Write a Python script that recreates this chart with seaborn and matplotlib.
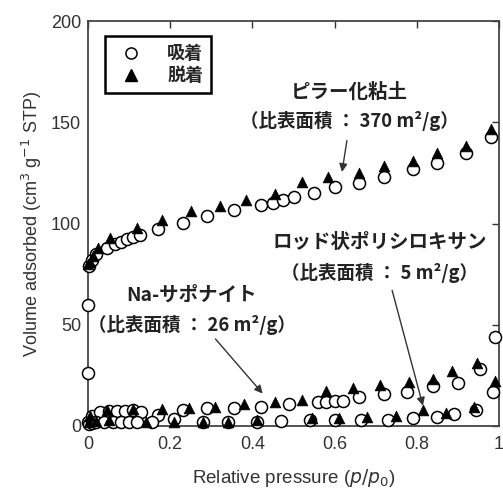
import matplotlib
matplotlib.use("Agg")
import matplotlib.pyplot as plt
import seaborn as sns
import pandas as pd
from matplotlib.lines import Line2D

# ピラー化粘土
pillar_ads_x = [0.0005, 0.001, 0.003, 0.01, 0.02, 0.045, 0.065, 0.08, 0.095, 0.11, 0.127, 0.17, 0.23, 0.29,
                0.355, 0.42, 0.45, 0.475, 0.50, 0.55, 0.60, 0.66, 0.72, 0.79, 0.85, 0.92, 0.98]
pillar_ads_y = [26, 60, 79, 82, 85, 88, 90, 91, 92.5, 93.5, 94.5, 97.5, 100.5, 103.5,
                106.5, 109, 110, 111.5, 113, 115, 118, 120, 123, 127, 130, 135, 143]
pillar_des_x = [0.0, 0.005, 0.012, 0.025, 0.054, 0.12, 0.18, 0.25, 0.32, 0.385, 0.455, 0.52, 0.585,
                0.66, 0.72, 0.79, 0.85, 0.92, 0.98]
pillar_des_y = [80, 81, 84, 88, 93, 98, 102, 106, 108.5, 111.5, 114.5, 120.5, 123,
                125, 128.5, 131, 135, 138.5, 146.5]

# Na-サポナイト
sapo_ads_x = [0.001, 0.01, 0.03, 0.05, 0.07, 0.09, 0.11, 0.13, 0.17, 0.23, 0.29, 0.355, 0.42, 0.49,
              0.56, 0.58, 0.60, 0.62, 0.66, 0.72, 0.775, 0.84, 0.90, 0.955, 0.99]
sapo_ads_y = [2, 5, 7, 7.5, 7.5, 7.5, 8, 7, 5.5, 8, 9, 9, 9.5, 11,
              12, 12, 12.5, 12.5, 14.5, 16, 17, 19.5, 21, 28, 44]
sapo_des_x = [0.005, 0.046, 0.11, 0.18, 0.245, 0.31, 0.38, 0.455, 0.52, 0.58, 0.645, 0.71, 0.78,
              0.84, 0.885, 0.946]
sapo_des_y = [5, 8, 8.5, 8.5, 9, 9.5, 11, 12, 13, 17.5, 19, 20, 21.5, 23, 27, 31]

# ロッド状ポリシロキサン
rod_ads_x = [0.002, 0.01, 0.02, 0.04, 0.06, 0.08, 0.10, 0.12, 0.155, 0.21, 0.28, 0.34, 0.41, 0.47,
             0.54, 0.60, 0.665, 0.73, 0.79, 0.85, 0.89, 0.945, 0.985]
rod_ads_y = [1, 1.5, 2, 2, 2, 2, 2, 2, 2, 3.5, 2, 2, 2, 2.5, 3, 3, 3, 3, 4, 4.5, 6, 8, 17]
rod_des_x = [0.003, 0.02, 0.05, 0.14, 0.21, 0.28, 0.34, 0.41, 0.545, 0.61, 0.68, 0.75, 0.815,
             0.87, 0.94, 0.99]
rod_des_y = [2, 2.5, 3, 2, 2, 2, 2, 3, 4, 4, 4.5, 5, 8, 6.5, 9.5, 22]

x_ticks = [0, 0.2, 0.4, 0.6, 0.8, 1]
x_tick_labels = ["0", "0.2", "0.4", "0.6", "0.8", "1"]
y_ticks = [0, 50, 100, 150, 200]

ads = pd.DataFrame({"x": pillar_ads_x + sapo_ads_x + rod_ads_x,
                    "y": pillar_ads_y + sapo_ads_y + rod_ads_y})
des = pd.DataFrame({"x": pillar_des_x + sapo_des_x + rod_des_x,
                    "y": pillar_des_y + sapo_des_y + rod_des_y})

sns.set_style("white")
plt.rcParams["font.family"] = ["Liberation Sans", "Noto Sans CJK JP"]
plt.rcParams["xtick.direction"] = "in"
plt.rcParams["ytick.direction"] = "in"

fig = plt.figure(figsize=(5.03, 4.93), dpi=100)
ax = fig.add_axes([0.175, 0.136, 0.817, 0.821])

sns.scatterplot(data=ads, x="x", y="y", ax=ax, marker="o", s=75,
                facecolor="white", edgecolor="black", linewidth=1.1, clip_on=False, zorder=3)
sns.scatterplot(data=des, x="x", y="y", ax=ax, marker="^", s=60,
                color="black", edgecolor="black", linewidth=0.5, clip_on=False, zorder=4)

ax.set_xlim(0, 1)
ax.set_ylim(0, 200)
ax.set_xticks(x_ticks)
ax.set_xticklabels(x_tick_labels)
ax.set_yticks(y_ticks)
ax.tick_params(axis="both", which="both", direction="in", length=5, width=1,
               top=True, right=True, labelsize=13, colors="#333333")
ax.tick_params(axis="x", pad=7)
ax.tick_params(axis="y", pad=5)
for s in ax.spines.values():
    s.set_color("#444444")
    s.set_linewidth(1.3)

ax.set_xlabel("Relative pressure ($p/p_0$)", fontsize=13.5, color="#333333", labelpad=10)
ax.set_ylabel("Volume adsorbed (cm$^3$ g$^{-1}$ STP)", fontsize=13, color="#333333", labelpad=5)

jp = dict(family=["Noto Sans CJK JP", "DejaVu Sans"], fontweight="bold",
          color="#222222", ha="center", va="center")
arrow = dict(arrowstyle="-|>", color="#333333", lw=1.0, mutation_scale=12, shrinkA=0, shrinkB=0)

ax.text(0.637, 165, "ピラー化粘土", fontsize=14, **jp)
ax.text(0.637, 150.5, "（比表面積 ： 370 m²/g）", fontsize=13.3, **jp)
ax.annotate("", xy=(0.618, 125.5), xytext=(0.63, 141), arrowprops=arrow)

ax.text(0.71, 90.6, "ロッド状ポリシロキサン", fontsize=14, **jp)
ax.text(0.71, 75.7, "（比表面積 ： 5 m²/g）", fontsize=13.3, **jp)
ax.annotate("", xy=(0.815, 10), xytext=(0.74, 67), arrowprops=arrow)

ax.text(0.252, 64.9, "Na-サポナイト", fontsize=14, **jp)
ax.text(0.252, 50, "（比表面積 ： 26 m²/g）", fontsize=13.3, **jp)
ax.annotate("", xy=(0.425, 16), xytext=(0.31, 43), arrowprops=arrow)

handles = [Line2D([], [], ls="none", marker="o", ms=8, mfc="white", mec="black", mew=1.1),
           Line2D([], [], ls="none", marker="^", ms=8, mfc="black", mec="black")]
leg = ax.legend(handles, ["吸着", "脱着"], loc="upper left", bbox_to_anchor=(0.041, 0.963),
                borderaxespad=0, fancybox=False, framealpha=1, handletextpad=1.0,
                prop={"family": ["Noto Sans CJK JP"], "weight": "bold", "size": 13},
                borderpad=0.45, labelspacing=0.15, handlelength=2.0)
leg.get_frame().set_edgecolor("black")
leg.get_frame().set_linewidth(1.8)

fig.savefig("out.png", dpi=100)
